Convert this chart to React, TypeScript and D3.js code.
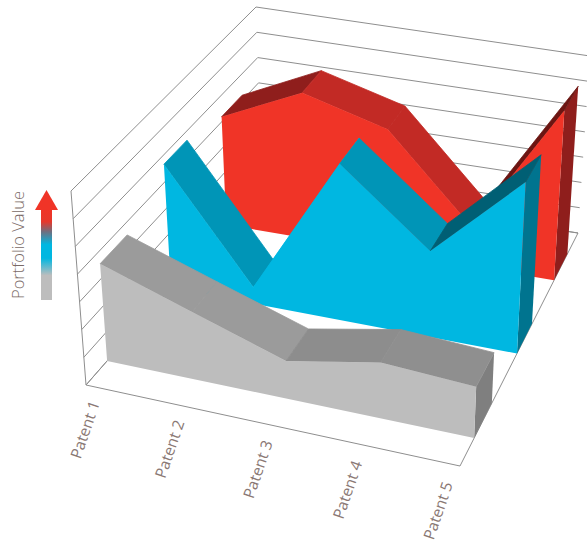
import React from "react";
import * as d3 from "d3";

// Chart content
const patents = ["Patent 1", "Patent 2", "Patent 3", "Patent 4", "Patent 5"];
const seriesNames = ["high", "medium", "low"];
const highValues = [4.19, 5.64, 4.76, 1.53, 6.57];
const mediumValues = [4.66, 0.62, 5.87, 3.21, 6.42];
const lowValues = [3.54, 2.45, 1.37, 2.02, 1.85];
const gridLevels = [0, 1, 2, 3, 4, 5, 6, 7];

// Ribbon shading: front face, end face, and one tone per top segment
const frontColors = ["#F03427", "#00B7E1", "#BDBDBD"];
const endColors = ["#8F1E1C", "#00748F", "#7F7F7F"];
const segmentColors = [
  ["#8F1E1C", "#C22A25", "#C22A25", "#6B1512"],
  ["#0095B7", "#00B7E1", "#0095B7", "#005F74"],
  ["#9B9B9B", "#9B9B9B", "#8D8D8D", "#8F8F8F"],
];

type Pt = [number, number];

// Corners of the box on screen: floor and ceiling, front/back, left/right
const floorCorners = { fl: [86, 385], fr: [460, 466], bl: [262, 184], br: [578, 233] };
const ceilCorners = { fl: [71, 191], fr: [467, 270], bl: [256, 7], br: [590, 56] };

const mix = (a: number, b: number, t: number) => a + (b - a) * t;
const bilinear = (c: typeof floorCorners, u: number, v: number): Pt => {
  const at = (i: number) =>
    mix(mix(c.fl[i], c.fr[i], u), mix(c.bl[i], c.br[i], u), v);
  return [at(0), at(1)];
};

// Maps category position, depth and value to screen coordinates
const uScale = d3.scalePow().exponent(1.03).domain([0, patents.length - 1]).range([0, 1]);
const hScale = d3.scaleLinear().domain([0, 7]).range([0, 1]);
const depthFront = d3.scaleOrdinal<string, number>().domain(seriesNames).range([0.797, 0.483, 0.12]);
const depthBack = d3.scaleOrdinal<string, number>().domain(seriesNames).range([0.91, 0.61, 0.27]);

const project = (u: number, v: number, value: number): Pt => {
  const f = bilinear(floorCorners, u, v);
  const t = bilinear(ceilCorners, u, v);
  const h = hScale(value);
  return [mix(f[0], t[0], h), mix(f[1], t[1], h)];
};

const closed = d3.line().curve(d3.curveLinearClosed);
const open = d3.line();

function Ribbon({ index, values }: { index: number; values: number[] }) {
  const name = seriesNames[index];
  const vf = depthFront(name);
  const vb = depthBack(name);
  const last = values.length - 1;
  const front = values.map((d, i) => project(uScale(i), vf, d));
  const back = values.map((d, i) => project(uScale(i), vb, d));
  const frontShape: Pt[] = [project(0, vf, 0), ...front, project(1, vf, 0)];
  const endShape: Pt[] = [project(1, vf, 0), front[last], back[last], project(1, vb, 0)];
  return (
    <g>
      <path d={closed(endShape)!} fill={endColors[index]} />
      {values.slice(0, -1).map((_, i) => {
        const color = segmentColors[index][i];
        return (
          <path
            key={i}
            d={closed([front[i], front[i + 1], back[i + 1], back[i]])!}
            fill={color}
            stroke={color}
            strokeWidth={0.8}
          />
        );
      })}
      <path d={closed(frontShape)!} fill={frontColors[index]} />
    </g>
  );
}

const labelX = d3.scaleLinear().domain([0, 1]).range([100, 453]);

export default function App() {
  return (
    <svg
      width={587}
      height={541}
      style={{ position: "absolute", left: 0, top: 0, background: "#fff" }}
      fontFamily="'Open Sans', sans-serif"
    >
      <defs>
        <linearGradient id="valueRamp" x1="0" y1="0" x2="0" y2="1">
          <stop offset="0" stopColor="#F03427" />
          <stop offset="0.14" stopColor="#E6382C" />
          <stop offset="0.25" stopColor="#6E6F80" />
          <stop offset="0.39" stopColor="#00B7E1" />
          <stop offset="0.54" stopColor="#00B7E1" />
          <stop offset="0.73" stopColor="#BDBDBD" />
          <stop offset="1" stopColor="#BDBDBD" />
        </linearGradient>
      </defs>

      {/* Side wall, back wall and floor */}
      <g fill="none" stroke="#8E8E8E" strokeWidth={1}>
        {gridLevels.map((lv) => (
          <path key={lv} d={open([project(0, 0, lv), project(0, 1, lv), project(1, 1, lv)])!} />
        ))}
        <path d={open([project(0, 0, 0), project(0, 0, 7)])!} />
        <path d={closed([project(0, 0, 0), project(1, 0, 0), project(1, 1, 0), project(0, 1, 0)])!} />
      </g>

      <Ribbon index={0} values={highValues} />
      <Ribbon index={1} values={mediumValues} />
      <Ribbon index={2} values={lowValues} />

      {patents.map((p, i) => {
        const u = uScale(i);
        const y = project(u, 0, 0)[1] + 18;
        return (
          <text
            key={p}
            transform={`translate(${labelX(u)},${y}) rotate(-71)`}
            textAnchor="end"
            fontSize={15.5}
            fill="#8A7874"
          >
            {p}
          </text>
        );
      })}

      {/* Colour key */}
      <rect x={41} y={209} width={11} height={91} fill="url(#valueRamp)" />
      <path
        d={closed(d3.range(3).map((i) => [[46.5, 190], [58, 210], [35, 210]][i] as Pt))!}
        fill="#F03427"
      />
      <text
        transform="translate(24,299) rotate(-90)"
        fontSize={16.5}
        fill="#7A6A66"
        fontWeight={300}
      >
        Portfolio Value
      </text>
    </svg>
  );
}
